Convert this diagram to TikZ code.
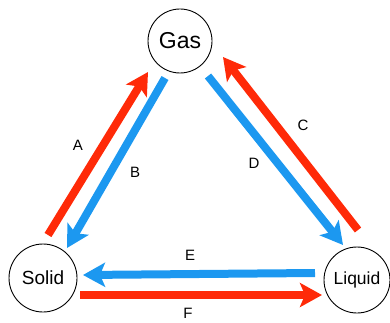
\documentclass[tikz,border=0pt]{standalone}
\usepackage{fontspec}
\setsansfont{Liberation Sans}
\usetikzlibrary{arrows.meta}

\definecolor{heatred}{RGB}{255,42,8}
\definecolor{coolblue}{RGB}{28,152,240}

\begin{document}
\begin{tikzpicture}[
    x=1pt, y=-1pt,
    font=\sffamily,
    phase/.style={
        draw=black,
        circle,
        line width=0.9pt,
        inner sep=0pt,
        minimum size=#1
    },
    flow/.style={
        draw=#1,
        line width=8pt,
        -{Stealth[length=22pt, width=24pt, inset=5pt]}
    },
    tag/.style={font=\sffamily\fontsize{15}{17}\selectfont}
]
\useasboundingbox (0,0) rectangle (390,323);

\node[phase=64pt, font=\sffamily\fontsize{23}{26}\selectfont] (gas) at (180,41) {Gas};
\node[phase=68pt, font=\sffamily\fontsize{19}{22}\selectfont] (solid) at (43,278) {Solid};
\node[phase=66pt, font=\sffamily\fontsize{17.5}{20}\selectfont] (liquid) at (357,280) {Liquid};

% arrow ends
\coordinate (a0) at (48,235);  \coordinate (a1) at (148,72);
\coordinate (b0) at (165,78);  \coordinate (b1) at (67,248);
\coordinate (c0) at (358,230); \coordinate (c1) at (223,57);
\coordinate (d0) at (208,76);  \coordinate (d1) at (343,245);
\coordinate (e0) at (315,273); \coordinate (e1) at (83,275);
\coordinate (f0) at (80,295);  \coordinate (f1) at (322,295);

\draw[flow=heatred] (a0) -- (a1);
\draw[flow=coolblue] (b0) -- (b1);
\draw[flow=heatred] (c0) -- (c1);
\draw[flow=coolblue] (d0) -- (d1);
\draw[flow=coolblue] (e0) -- (e1);
\draw[flow=heatred] (f0) -- (f1);

\node[tag] (la) at (78,145) {A};
\node[tag] (lb) at (135,172) {B};
\node[tag] (lc) at (303,125) {C};
\node[tag] (ld) at (254,163) {D};
\node[tag] (le) at (190,255) {E};
\node[tag] (lf) at (188,313) {F};

\end{tikzpicture}
\end{document}
